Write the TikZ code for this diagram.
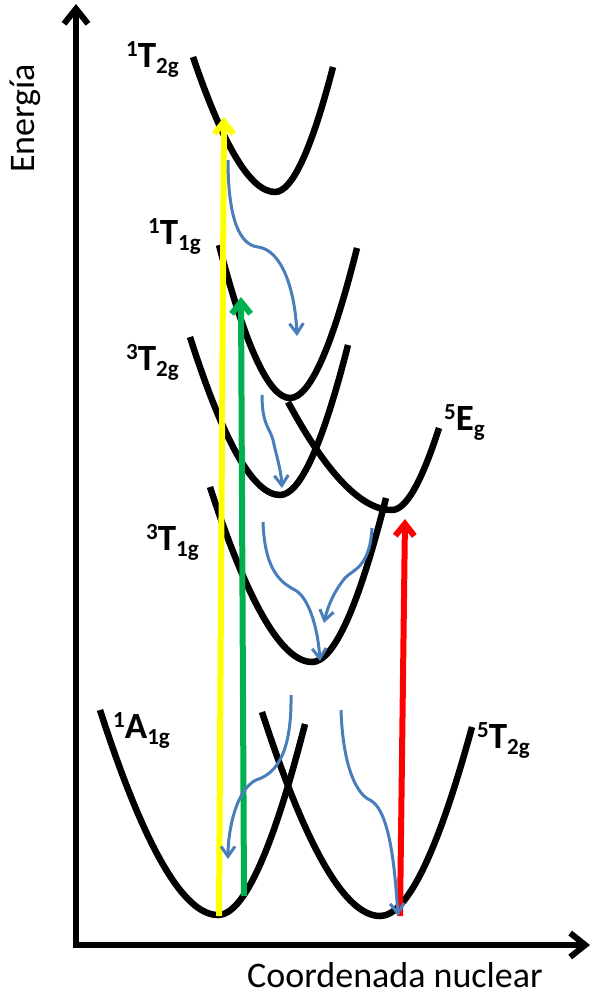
\documentclass[tikz,border=0pt]{standalone}
\usepackage{fontspec}
\setmainfont{Carlito}
\usetikzlibrary{arrows.meta}
\definecolor{blu}{HTML}{4A7EBB}
\definecolor{grn}{HTML}{00B050}
\definecolor{yel}{HTML}{FFFF00}
\definecolor{rd}{HTML}{FF0000}
\newcommand\pesc[6]{%
\pgfmathsetmacro\qa{#1+0.56*(#3-#1)}%
\pgfmathsetmacro\qb{#5+0.56*(#3-#5)}%
\draw[pes] (#1,#2) .. controls ({#1+2/3*(\qa-#1)},{#2+2/3*(#4-#2)}) and ({#3+2/3*(\qa-#3)},#4) .. (#3,#4) .. controls ({#3+2/3*(\qb-#3)},#4) and ({#5+2/3*(\qb-#5)},{#6+2/3*(#4-#6)}) .. (#5,#6);}
\newcommand\lbl[3]{\raisebox{11pt}{\fontsize{23}{23}\selectfont #1}#2\raisebox{-6pt}{\fontsize{23}{23}\selectfont #3}}
\begin{document}
\begin{tikzpicture}[x=1pt,y=-1pt,
  pes/.style={line width=6.5pt,black},
  axisline/.style={line width=6pt,line join=miter,{Straight Barb[length=15pt,width=24pt]}-{Straight Barb[length=15pt,width=24pt]}},
  excite/.style={line width=6pt,-{Straight Barb[length=12pt,width=19pt]}},
  relax/.style={line width=3pt,blu,-{Straight Barb[length=10pt,width=14pt]}},
  lab/.style={font=\bfseries\fontsize{37}{37}\selectfont,inner sep=0pt,anchor=base west},
  axlab/.style={font=\fontsize{36}{40}\selectfont,inner sep=0pt,anchor=base west}]
\useasboundingbox (0,0) rectangle (603,995);
% axes
\coordinate (ytip) at (76,4);
\coordinate (orig) at (76,945);
\coordinate (xtip) at (590,945);
\draw[axisline] (ytip) -- (orig) -- (xtip);
\node[axlab,rotate=90] (elab) at (34,173) {Energía};
\node[axlab] (clab) at (247,987) {Coordenada nuclear};
% potential curves
\pesc{193}{57}{275}{192}{333}{67}
\pesc{219}{245}{290}{398}{357}{248}
\pesc{190}{337}{280}{495}{348}{345}
\pesc{288}{402}{392}{510}{439}{428}
\pesc{210}{487}{312}{662}{386}{498}
\pesc{100}{710}{218}{915}{305}{724}
\pesc{262}{712}{380}{916}{472}{727}
% labels
\node[lab] (t2s) at (126,68) {\lbl{1}{T}{2g}};
\node[lab] (t1s) at (148,244) {\lbl{1}{T}{1g}};
\node[lab] (t2t) at (126,370) {\lbl{3}{T}{2g}};
\node[lab] (t1t) at (146,550) {\lbl{3}{T}{1g}};
\node[lab] (eq) at (444,430) {\lbl{5}{E}{g}};
\node[lab] (a1s) at (113,738) {\lbl{1}{A}{1g}};
\node[lab] (t2q) at (477,748) {\lbl{5}{T}{2g}};
% excitation arrows
\coordinate (y0) at (219,916);
\coordinate (y1) at (224,117);
\coordinate (g0) at (244,896);
\coordinate (g1) at (241,297);
\coordinate (r0) at (400,916);
\coordinate (r1) at (405,519);
\draw[excite,yel] (y0) -- (y1);
\draw[excite,grn] (g0) -- (g1);
\draw[excite,rd] (r0) -- (r1);
% relaxation arrows
\coordinate (b1a) at (228,160);
\coordinate (b1b) at (297,336);
\coordinate (b2a) at (262,395);
\coordinate (b2b) at (282,488);
\coordinate (b3a) at (263,522);
\coordinate (b3b) at (320,661);
\coordinate (b4a) at (372,528);
\coordinate (b4b) at (324,623);
\coordinate (b5a) at (291,695);
\coordinate (b5b) at (228,859);
\coordinate (b6a) at (341,710);
\coordinate (b6b) at (398,916);
\draw[relax] (b1a) .. controls (228,220) and (240,245) .. (258,247) .. controls (282,250) and (295,290) .. (b1b);
\draw[relax] (b2a) .. controls (262,425) and (270,428) .. (273,440) .. controls (277,458) and (281,470) .. (b2b);
\draw[relax] (b3a) .. controls (265,580) and (288,585) .. (298,592) .. controls (310,602) and (318,630) .. (b3b);
\draw[relax] (b4a) .. controls (370,568) and (352,570) .. (345,578) .. controls (335,590) and (328,605) .. (b4b);
\draw[relax] (b5a) .. controls (292,760) and (272,775) .. (256,780) .. controls (236,790) and (228,830) .. (b5b);
\draw[relax] (b6a) .. controls (343,770) and (358,795) .. (370,800) .. controls (390,810) and (395,870) .. (b6b);
\end{tikzpicture}
\end{document}
